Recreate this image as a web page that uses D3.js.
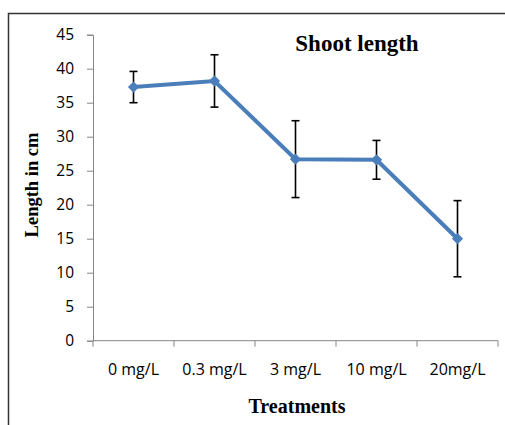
<!DOCTYPE html>
<html>
<head>
<meta charset="utf-8">
<script src="https://cdn.jsdelivr.net/npm/d3@7"></script>
<style>
  body { margin: 0; background: #fff; }
</style>
</head>
<body>
<div class="graphic"></div>
<script>
let categories = ["0 mg/L", "0.3 mg/L", "3 mg/L", "10 mg/L", "20mg/L"];
let lengths = [37.3, 38.2, 26.7, 26.6, 15.0];
let errors = [2.3, 3.85, 5.65, 2.85, 5.6];
let yTicks = [0, 5, 10, 15, 20, 25, 30, 35, 40, 45];

let svg = d3.select(".graphic")
            .append("svg")
            .attr("width", 505)
            .attr("height", 425);

// chart frame
svg.append("rect")
    .attr("x", 8.5).attr("y", 13.5)
    .attr("width", 520).attr("height", 430)
    .attr("fill", "none")
    .attr("stroke", "#333")
    .attr("stroke-width", 1.5);

let plotLeft = 93, plotRight = 498, plotTop = 34.7, plotBottom = 340.7;

let x = d3.scaleBand().domain(categories).range([plotLeft, plotRight]);
let y = d3.scaleLinear().domain([0, 45]).range([plotBottom, plotTop]);

let axisColor = "#868686";

// y axis
let yAxis = svg.append("g")
    .attr("transform", `translate(${plotLeft},0)`)
    .call(d3.axisLeft(y).tickValues(yTicks).tickSize(6).tickPadding(13));
yAxis.select(".domain").attr("stroke", axisColor);
yAxis.selectAll(".tick line").attr("stroke", axisColor);
yAxis.selectAll("text")
    .attr("font-family", "'Open Sans', sans-serif")
    .attr("font-size", 15.5)
    .attr("fill", "#000");

// x axis
let xAxis = svg.append("g")
    .attr("transform", `translate(0,${plotBottom})`)
    .call(d3.axisBottom(x).tickSize(0).tickPadding(23));
xAxis.select(".domain").attr("stroke", axisColor).attr("d", `M${plotLeft},0H${plotRight}`);
xAxis.selectAll("text")
    .attr("font-family", "'Open Sans', sans-serif")
    .attr("font-size", 16)
    .attr("fill", "#000");
let bounds = categories.map(c => x(c)).concat([plotRight]);
xAxis.selectAll(".sep")
    .data(bounds)
    .enter().append("line")
    .attr("x1", d => d).attr("x2", d => d)
    .attr("y1", 0).attr("y2", 6)
    .attr("stroke", axisColor);

let cx = c => x(c) + x.bandwidth() / 2;

// line
let line = d3.line()
    .x((d, i) => cx(categories[i]))
    .y(d => y(d));
svg.append("path")
    .datum(lengths)
    .attr("d", line)
    .attr("fill", "none")
    .attr("stroke", "#4a7ebb")
    .attr("stroke-width", 4);

// error bars
let eb = svg.append("g").attr("stroke", "#000").attr("stroke-width", 1.6);
lengths.forEach((v, i) => {
    let px = cx(categories[i]);
    eb.append("line")
        .attr("x1", px).attr("x2", px)
        .attr("y1", y(v + errors[i])).attr("y2", y(v - errors[i]));
    [v + errors[i], v - errors[i]].forEach(e => {
        eb.append("line")
            .attr("x1", px - 4).attr("x2", px + 4)
            .attr("y1", y(e)).attr("y2", y(e));
    });
});

// diamond markers
svg.selectAll(".marker")
    .data(lengths)
    .enter().append("path")
    .attr("class", "marker")
    .attr("d", d3.symbol().type(d3.symbolDiamond2).size(80))
    .attr("transform", (d, i) => `translate(${cx(categories[i])},${y(d)})`)
    .attr("fill", "#4a7ebb");

// titles
svg.append("text")
    .attr("x", 357).attr("y", 51)
    .attr("text-anchor", "middle")
    .attr("font-family", "'Liberation Serif', serif")
    .attr("font-weight", "bold")
    .attr("font-size", 23)
    .text("Shoot length");

svg.append("text")
    .attr("x", 297).attr("y", 413)
    .attr("text-anchor", "middle")
    .attr("font-family", "'Liberation Serif', serif")
    .attr("font-weight", "bold")
    .attr("font-size", 20)
    .text("Treatments");

svg.append("text")
    .attr("transform", "translate(38,185) rotate(-90)")
    .attr("text-anchor", "middle")
    .attr("font-family", "'Liberation Serif', serif")
    .attr("font-weight", "bold")
    .attr("font-size", 18.5)
    .text("Length in cm");
</script>
</body>
</html>
